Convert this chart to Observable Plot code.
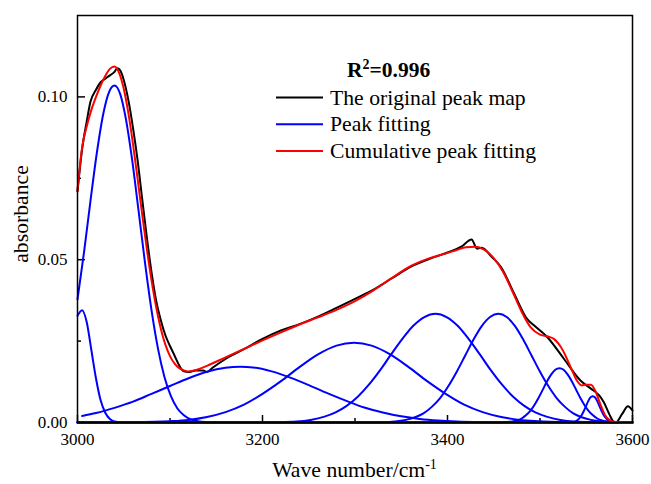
<!DOCTYPE html>
<html><head><meta charset="utf-8">
<script src="https://cdn.jsdelivr.net/npm/d3@7"></script>
<script src="https://cdn.jsdelivr.net/npm/@observablehq/plot@0.6"></script>
<style>body{margin:0;background:#fff;} svg{display:block}</style>
</head><body><div id="chart"></div>
<script>
// ---- tick values ----
const xTicks = [3000, 3200, 3400, 3600];
const xMinor = [3100, 3300, 3500];
const yTicks = [0, 0.05, 0.10];
const yMinor = [0.025, 0.075];

// ---- the original peak map (black) ----
const originalWn = [3000, 3005, 3010, 3014, 3020, 3025, 3030, 3035, 3040, 3043, 3046, 3050, 3055, 3060, 3065, 3070, 3075, 3080, 3085, 3090, 3095, 3100, 3105, 3110, 3115, 3120, 3128, 3136, 3140, 3146, 3160, 3180, 3200, 3220, 3240, 3260, 3280, 3300, 3320, 3340, 3360, 3380, 3400, 3415, 3426, 3432, 3437, 3448, 3458, 3472, 3486, 3495, 3508, 3526, 3544, 3555, 3564, 3569, 3575, 3579, 3582, 3589, 3595, 3600];
const originalAbs = [0.0710, 0.0840, 0.0925, 0.0985, 0.1022, 0.1045, 0.1056, 0.1066, 0.1077, 0.1088, 0.1082, 0.1052, 0.0990, 0.0905, 0.0805, 0.0685, 0.0568, 0.0462, 0.0375, 0.0315, 0.0268, 0.0235, 0.0205, 0.0175, 0.0157, 0.0155, 0.0160, 0.0160, 0.0155, 0.0168, 0.0195, 0.0225, 0.0257, 0.0283, 0.0302, 0.0325, 0.0352, 0.0380, 0.0408, 0.0443, 0.0478, 0.0502, 0.0522, 0.0540, 0.0562, 0.0534, 0.0537, 0.0508, 0.0477, 0.0396, 0.0318, 0.0295, 0.0262, 0.0195, 0.0128, 0.0104, 0.0083, 0.0062, 0.0025, 0.0004, 0.0000, 0.0027, 0.0050, 0.0037];

// ---- cumulative peak fitting (red) ----
const cumulativeWn = [3000, 3005, 3010, 3015, 3020, 3025, 3030, 3035, 3040, 3045, 3050, 3055, 3060, 3065, 3070, 3075, 3080, 3085, 3090, 3095, 3100, 3105, 3110, 3115, 3120, 3130, 3140, 3160, 3180, 3200, 3220, 3240, 3260, 3280, 3300, 3320, 3340, 3360, 3380, 3400, 3410, 3420, 3430, 3440, 3450, 3460, 3470, 3480, 3490, 3500, 3505, 3510, 3515, 3520, 3525, 3530, 3535, 3540, 3545, 3550, 3555, 3560, 3565, 3570, 3575, 3580, 3590, 3600];
const cumulativeAbs = [0.0712, 0.0845, 0.0910, 0.0960, 0.1000, 0.1035, 0.1064, 0.1086, 0.1093, 0.1074, 0.1025, 0.0950, 0.0855, 0.0748, 0.0638, 0.0532, 0.0437, 0.0355, 0.0289, 0.0239, 0.0204, 0.0181, 0.0167, 0.0160, 0.0157, 0.0163, 0.0174, 0.0200, 0.0226, 0.0252, 0.0277, 0.0301, 0.0323, 0.0346, 0.0373, 0.0406, 0.0444, 0.0480, 0.0504, 0.0521, 0.0530, 0.0538, 0.0540, 0.0530, 0.0505, 0.0463, 0.0404, 0.0341, 0.0292, 0.0270, 0.0266, 0.0263, 0.0257, 0.0242, 0.0220, 0.0190, 0.0158, 0.0128, 0.0114, 0.0116, 0.0116, 0.0096, 0.0058, 0.0024, 0.0008, 0.0002, 0, 0];

// ---- individual fitted peaks (blue) ----
const peak1Wn = [3000, 3005, 3010, 3015, 3020, 3025, 3030, 3035, 3040, 3050, 3600];
const peak1Abs = [0.0328, 0.0345, 0.0308, 0.0222, 0.0135, 0.0068, 0.0030, 0.0011, 0.0003, 0, 0];
const peak2Wn = [3000, 3007, 3014, 3021, 3028, 3034, 3040, 3046, 3052, 3059, 3066, 3073, 3080, 3087, 3094, 3101, 3108, 3115, 3122, 3130, 3140, 3150, 3600];
const peak2Abs = [0.0378, 0.0522, 0.0680, 0.0830, 0.0950, 0.1014, 0.1035, 0.1010, 0.0937, 0.0808, 0.0651, 0.0490, 0.0345, 0.0227, 0.0140, 0.0081, 0.0043, 0.0022, 0.0010, 0.0004, 0.0001, 0, 0];
const peak3Wn = [3005, 3020, 3040, 3060, 3080, 3100, 3120, 3140, 3160, 3176, 3190, 3210, 3230, 3250, 3270, 3290, 3310, 3330, 3350, 3370, 3390, 3410, 3440, 3480, 3600];
const peak3Abs = [0.0020, 0.0029, 0.0045, 0.0064, 0.0088, 0.0112, 0.0136, 0.0156, 0.0168, 0.0171, 0.0169, 0.0157, 0.0138, 0.0115, 0.0090, 0.0067, 0.0046, 0.0031, 0.0019, 0.0011, 0.0006, 0.0003, 0.0001, 0, 0];
const peak4Wn = [3000, 3060, 3100, 3120, 3140, 3160, 3180, 3200, 3220, 3240, 3260, 3280, 3299, 3318, 3338, 3358, 3378, 3398, 3418, 3438, 3458, 3478, 3498, 3530, 3560, 3600];
const peak4Abs = [0, 0.0001, 0.0004, 0.0008, 0.0017, 0.0032, 0.0055, 0.0088, 0.0127, 0.0170, 0.0209, 0.0236, 0.0245, 0.0236, 0.0209, 0.0170, 0.0127, 0.0088, 0.0055, 0.0032, 0.0017, 0.0008, 0.0004, 0.0001, 0, 0];
const peak5Wn = [3000, 3180, 3217, 3237, 3252, 3267, 3279, 3291, 3303, 3315, 3327, 3339, 3351, 3363, 3375, 3387, 3399, 3411, 3423, 3435, 3447, 3459, 3471, 3483, 3495, 3507, 3522, 3537, 3557, 3590, 3600];
const peak5Abs = [0, 0, 0.0001, 0.0003, 0.0008, 0.0018, 0.0031, 0.0051, 0.0079, 0.0116, 0.0160, 0.0209, 0.0256, 0.0297, 0.0324, 0.0334, 0.0324, 0.0297, 0.0256, 0.0209, 0.0160, 0.0116, 0.0079, 0.0051, 0.0031, 0.0018, 0.0008, 0.0003, 0.0001, 0, 0];
const peak6Wn = [3000, 3300, 3330, 3343, 3355, 3365, 3374, 3383, 3392, 3401, 3410, 3419, 3428, 3437, 3446, 3455, 3464, 3473, 3482, 3491, 3500, 3509, 3518, 3527, 3536, 3545, 3555, 3567, 3580, 3600];
const peak6Abs = [0, 0, 0.0001, 0.0003, 0.0008, 0.0016, 0.0028, 0.0048, 0.0075, 0.0112, 0.0156, 0.0205, 0.0254, 0.0296, 0.0324, 0.0334, 0.0324, 0.0296, 0.0254, 0.0205, 0.0156, 0.0112, 0.0075, 0.0048, 0.0028, 0.0016, 0.0008, 0.0003, 0.0001, 0];
const peak7Wn = [3000, 3458, 3467, 3476, 3480.5, 3485, 3489.5, 3494, 3498.5, 3503, 3507.5, 3512, 3516.5, 3521, 3525.5, 3530, 3534.5, 3539, 3543.5, 3548, 3552.5, 3557, 3561.5, 3566, 3575, 3584, 3600];
const peak7Abs = [0, 0, 0.0002, 0.0007, 0.0013, 0.0023, 0.0036, 0.0054, 0.0076, 0.0101, 0.0126, 0.0147, 0.0162, 0.0167, 0.0162, 0.0147, 0.0126, 0.0101, 0.0076, 0.0054, 0.0036, 0.0023, 0.0013, 0.0007, 0.0002, 0, 0];
const peak8Wn = [3000, 3532, 3537, 3539.5, 3542, 3544.5, 3547, 3549.5, 3552, 3554.5, 3557, 3559.5, 3562, 3564.5, 3567, 3569.5, 3572, 3574.5, 3577, 3582, 3600];
const peak8Abs = [0, 0, 0.0002, 0.0005, 0.0011, 0.0020, 0.0033, 0.0049, 0.0065, 0.0077, 0.0081, 0.0077, 0.0065, 0.0049, 0.0033, 0.0020, 0.0011, 0.0005, 0.0002, 0, 0];

// ---- legend texts ----
const legendLabels = ["The original peak map", "Peak fitting", "Cumulative peak fitting"];
const legendColors = ["#000000", "#0000ff", "#ff0000"];

// build rows
const rows = (wn, ab, s) => wn.map((w, i) => ({wn: w, abs: ab[i], s}));
const originalRows = rows(originalWn, originalAbs, "orig");
const cumulativeRows = rows(cumulativeWn, cumulativeAbs, "cum");
const peakRows = [
  [peak1Wn, peak1Abs], [peak2Wn, peak2Abs], [peak3Wn, peak3Abs], [peak4Wn, peak4Abs],
  [peak5Wn, peak5Abs], [peak6Wn, peak6Abs], [peak7Wn, peak7Abs], [peak8Wn, peak8Abs]
].flatMap(([w, a], k) => rows(w, a, "p" + (k + 1)));

const W = 651, H = 484, mL = 77, mR = 19, mT = 15, mB = 62;
const plotW = W - mL - mR, plotH = H - mT - mB;
const serif = "'Liberation Serif', 'Times New Roman', serif";

const chart = Plot.plot({
  width: W, height: H,
  marginLeft: mL, marginRight: mR, marginTop: mT, marginBottom: mB,
  style: {fontFamily: serif, fontSize: "17px", color: "#000", background: "#fff"},
  x: {domain: [3000, 3600]},
  y: {domain: [0, 0.125]},
  marks: [
    Plot.axisX(xTicks, {tickSize: 0, tickPadding: 10, tickFormat: d => String(d), label: null}),
    Plot.axisY(yTicks, {tickSize: 0, tickPadding: 10, tickFormat: d3.format(".2f"), label: null}),
    Plot.tickX(xTicks, {x: d => d, insetTop: plotH - 7, stroke: "#000", strokeWidth: 1.5}),
    Plot.tickX(xMinor, {x: d => d, insetTop: plotH - 4, stroke: "#000", strokeWidth: 1.5}),
    Plot.tickY(yTicks, {y: d => d, insetRight: plotW - 8, stroke: "#000", strokeWidth: 1.5}),
    Plot.tickY(yMinor, {y: d => d, insetRight: plotW - 4, stroke: "#000", strokeWidth: 1.5}),
    Plot.line(originalRows, {x: "wn", y: "abs", stroke: "#000", strokeWidth: 2, curve: "monotone-x"}),
    Plot.line(peakRows, {x: "wn", y: "abs", z: "s", stroke: "#0000ff", strokeWidth: 2, curve: "monotone-x"}),
    Plot.line(cumulativeRows, {x: "wn", y: "abs", stroke: "#ff0000", strokeWidth: 2, curve: "monotone-x"}),
    Plot.frame({stroke: "#000", strokeWidth: 1.5})
  ]
});

const svg = d3.select(chart);
// axis titles
const xl = svg.append("text").attr("x", mL + plotW / 2).attr("y", 477)
  .attr("text-anchor", "middle").attr("font-size", "21.7px").attr("font-family", serif).attr("fill", "#000");
xl.append("tspan").text("Wave number/cm");
xl.append("tspan").attr("dy", -8).attr("font-size", "14px").text("-1");

svg.append("text").attr("transform", `translate(28,214) rotate(-90)`)
  .attr("text-anchor", "middle").attr("font-size", "21.7px").attr("font-family", serif).attr("fill", "#000")
  .text("absorbance");

// R^2 annotation
const r2 = svg.append("text").attr("x", 347).attr("y", 77).attr("font-size", "21.5px")
  .attr("text-anchor", "start").attr("font-weight", "bold").attr("font-family", serif).attr("fill", "#000");
r2.append("tspan").text("R");
r2.append("tspan").attr("dy", -8).attr("font-size", "14px").text("2");
r2.append("tspan").attr("dy", 8).text("=0.996");

// legend
legendLabels.forEach((lab, i) => {
  const y = 97.5 + i * 26.7;
  svg.append("line").attr("x1", 276).attr("x2", 323).attr("y1", y).attr("y2", y)
    .attr("stroke", legendColors[i]).attr("stroke-width", 2);
  svg.append("text").attr("x", 330).attr("y", y + 7).attr("font-size", "21.7px")
    .attr("text-anchor", "start").attr("font-family", serif).attr("fill", "#000").text(lab);
});

document.getElementById("chart").appendChild(chart);
</script></body></html>
